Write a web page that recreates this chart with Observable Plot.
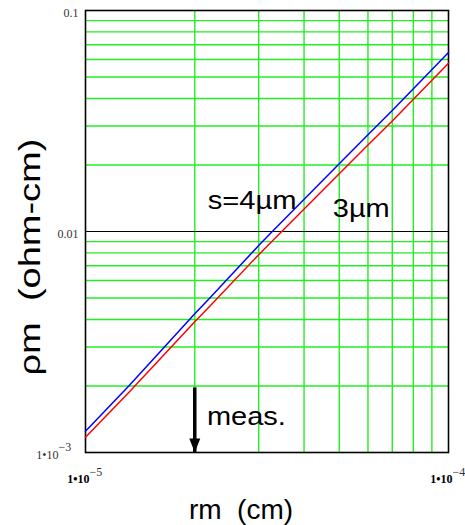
<!DOCTYPE html>
<html>
<head>
<meta charset="utf-8">
<script src="https://cdn.jsdelivr.net/npm/d3@7"></script>
<script src="https://cdn.jsdelivr.net/npm/@observablehq/plot@0.6"></script>
<style>
  html, body { margin: 0; padding: 0; background: #ffffff; }
  #chart { width: 465px; height: 525px; }
</style>
</head>
<body>
<div id="chart"></div>
<script>
// ---- data ----
const sampleX = [1e-5, 1.316e-5, 2e-5, 2.2e-5, 3e-5, 3.27e-5, 5e-5, 6e-5, 7e-5, 1e-4];
const blueY = [1.248e-3, 2e-3, 4.24e-3, 5e-3, 8.64e-3, 0.01, 0.02025, 0.0274, 0.03528, 0.0646];
const redY = [1.173e-3, 1.869e-3, 3.908e-3, 4.587e-3, 7.855e-3, 9.05e-3, 0.01824, 0.02462, 0.03164, 0.05768];

const gridX = [2e-5, 3e-5, 4e-5, 5e-5, 6e-5, 7e-5, 8e-5, 9e-5];
const gridY = [0.002, 0.003, 0.004, 0.005, 0.006, 0.007, 0.008, 0.009,
               0.02, 0.03, 0.04, 0.05, 0.06, 0.07, 0.08, 0.09];
const decadeY = [0.01];

const xTicks = [1e-5, 1e-4];
const xTickMant = ["1\u202210", "1\u202210"];
const xTickExp = ["\u22125", "\u22124"];
const yTicksPlain = [0.1, 0.01];
const yTicksPlainText = ["0.1", "0.01"];
const yTicksSci = [1e-3];
const yTickMant = ["1\u202210"];
const yTickExp = ["\u22123"];

const labels = [
  {x: 2.17e-5, y: 0.01258, text: "s=4\u00b5m"},
  {x: 4.80e-5, y: 0.01161, text: "3\u00b5m"},
  {x: 2.16e-5, y: 1.325e-3, text: "meas."}
];
const measX = [2e-5];
const measTop = [1.97e-3];
const measBottom = [1e-3];

const xTitle = "rm\u00a0\u00a0(cm)";
const yTitle = "\u03c1m\u00a0\u00a0(ohm-cm)";

// ---- build ----
const blue = sampleX.map((x, i) => ({x, y: blueY[i]}));
const red = sampleX.map((x, i) => ({x, y: redY[i]}));
const arrowData = measX.map((x, i) => ({x, y1: measTop[i], y2: measBottom[i]}));

const arrowHead = {
  draw(ctx) {
    ctx.moveTo(-5.5, -14);
    ctx.lineTo(5.5, -14);
    ctx.lineTo(0, 0);
    ctx.closePath();
  }
};

const serif = "'Liberation Serif', 'Times New Roman', serif";
const sans = "'Liberation Sans', Arial, Helvetica, sans-serif";
const green = "#22ee22";

const chart = Plot.plot({
  width: 465,
  height: 525,
  marginLeft: 85,
  marginRight: 17,
  marginTop: 10,
  marginBottom: 73,
  style: {background: "#ffffff"},
  x: {type: "log", domain: [1e-5, 1e-4], axis: null},
  y: {type: "log", domain: [1e-3, 0.1], axis: null},
  marks: [
    Plot.ruleX(gridX, {stroke: green, strokeWidth: 1.4}),
    Plot.ruleY(gridY, {stroke: green, strokeWidth: 1.4}),
    Plot.ruleY(decadeY, {stroke: "#000000", strokeWidth: 1.2}),
    Plot.frame({stroke: "#000000", strokeWidth: 1.6}),
    Plot.line(red, {x: "x", y: "y", stroke: "#ff0000", strokeWidth: 1.5}),
    Plot.line(blue, {x: "x", y: "y", stroke: "#0000ff", strokeWidth: 1.5}),
    // arrow
    Plot.link(arrowData, {x1: "x", x2: "x", y1: "y1", y2: "y2", stroke: "#000000", strokeWidth: 3.5}),
    Plot.dot(arrowData, {x: "x", y: "y2", symbol: arrowHead, fill: "#000000", stroke: "none"}),
    // annotations
    Plot.text(labels, {x: "x", y: "y", text: "text", textAnchor: "start", lineAnchor: "bottom",
      fontFamily: sans, fontSize: 26, fill: "#000000"}),
    // y tick labels
    Plot.text(yTicksPlain, {x: () => 1e-5, y: d => d, text: (d, i) => yTicksPlainText[i], textAnchor: "end",
      dx: -7, dy: 2.5, fontFamily: serif, fontSize: 12, fill: "#333333"}),
    Plot.text(yTicksSci, {x: () => 1e-5, y: d => d, text: (d, i) => yTickMant[i], textAnchor: "end",
      dx: -27, dy: 3, fontFamily: serif, fontSize: 12, fill: "#333333"}),
    Plot.text(yTicksSci, {x: () => 1e-5, y: d => d, text: (d, i) => yTickExp[i], textAnchor: "start",
      dx: -27, dy: -5, fontFamily: serif, fontSize: 12, fill: "#333333"}),
    // x tick labels
    Plot.text(xTicks, {x: d => d, text: (d, i) => xTickMant[i], frameAnchor: "bottom", textAnchor: "end",
      dx: 4, dy: 30, fontFamily: serif, fontSize: 12, fontWeight: "bold", fill: "#000000"}),
    Plot.text(xTicks, {x: d => d, text: (d, i) => xTickExp[i], frameAnchor: "bottom", textAnchor: "start",
      dx: 4, dy: 23, fontFamily: serif, fontSize: 12, fill: "#333333"}),
    // axis titles
    Plot.text([xTitle], {frameAnchor: "bottom", lineAnchor: "bottom", dx: -26, dy: 66, text: d => d,
      fontFamily: sans, fontSize: 28, fill: "#000000"}),
    Plot.text([yTitle], {frameAnchor: "left", rotate: -90, dx: -53, dy: 26, text: d => d,
      fontFamily: sans, fontSize: 29, fill: "#000000"})
  ]
});

document.getElementById("chart").appendChild(chart);

// The reference's lettering is stretched (non-uniformly scaled export).
// Apply a screen-space affine S to one text element, via a wrapper group.
function applyScreen(t, S) {
  const P = t.parentNode;
  const c = P.getCTM();
  const M = new DOMMatrix([c.a, c.b, c.c, c.d, c.e, c.f]);
  const W = M.inverse().multiply(S).multiply(M);
  const g = document.createElementNS("http://www.w3.org/2000/svg", "g");
  P.insertBefore(g, t);
  g.appendChild(t);
  g.setAttribute("transform", `matrix(${W.a},${W.b},${W.c},${W.d},${W.e},${W.f})`);
}
function boxOf(t) {
  const s = chart.getBoundingClientRect();
  const r = t.getBoundingClientRect();
  return {x: r.left - s.left, y: r.top - s.top, w: r.width, h: r.height};
}
const texts = Array.from(chart.querySelectorAll("text"));
// horizontal widths of the annotation words
const widthFor = {"s=4\u00b5m": 89, "3\u00b5m": 57, "meas.": 79};
texts.forEach(t => {
  const w = widthFor[t.textContent];
  if (!w) return;
  const b = boxOf(t);
  const cy = b.y + b.h / 2;
  applyScreen(t, new DOMMatrix().translate(b.x, cy).scale(w / b.w, 1).translate(-b.x, -cy));
});
// vertical title: compress along its length and centre it
texts.forEach(t => {
  if (t.textContent !== yTitle) return;
  const b = boxOf(t);
  const cx = b.x + b.w / 2, cy = b.y + b.h / 2;
  applyScreen(t, new DOMMatrix().translate(30, 257).scale(1, 237 / b.h).translate(-cx, -cy));
});
</script>
</body>
</html>
